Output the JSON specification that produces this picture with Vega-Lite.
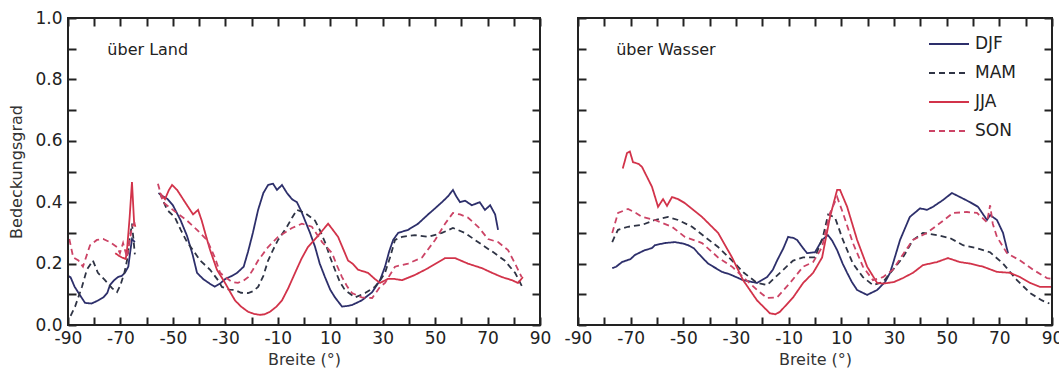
{
"$schema": "https://vega.github.io/schema/vega-lite/v6.json",
"width": 984, "height": 307,
"autosize": {"type": "none"},
"padding": {"left": 68, "top": 18, "right": 7, "bottom": 51},
"background": "white",
"config": {
 "view": {"stroke": null},
 "axis": {"labelFont": "DejaVu Sans", "titleFont": "DejaVu Sans", "labelFontSize": 17, "titleFontSize": 16, "titleFontWeight": "normal", "labelColor": "#222", "titleColor": "#333", "grid": false, "labelOverlap": false, "labelFlush": false}
},
"datasets": {
"d": [
{"p":"Land","s":"DJF","g":"1","lat":-90,"v":0.16},{"p":"Land","s":"DJF","g":"1","lat":-89,"v":0.155},{"p":"Land","s":"DJF","g":"1","lat":-87.5,"v":0.125},{"p":"Land","s":"DJF","g":"1","lat":-85.5,"v":0.098},{"p":"Land","s":"DJF","g":"1","lat":-83.5,"v":0.072},{"p":"Land","s":"DJF","g":"1","lat":-81,"v":0.07},{"p":"Land","s":"DJF","g":"1","lat":-78.5,"v":0.08},{"p":"Land","s":"DJF","g":"1","lat":-76.5,"v":0.09},{"p":"Land","s":"DJF","g":"1","lat":-75,"v":0.105},{"p":"Land","s":"DJF","g":"1","lat":-74,"v":0.13},{"p":"Land","s":"DJF","g":"1","lat":-72.5,"v":0.145},{"p":"Land","s":"DJF","g":"1","lat":-71,"v":0.156},{"p":"Land","s":"DJF","g":"1","lat":-69.5,"v":0.16},{"p":"Land","s":"DJF","g":"1","lat":-68.3,"v":0.17},{"p":"Land","s":"DJF","g":"1","lat":-67,"v":0.19},{"p":"Land","s":"DJF","g":"1","lat":-66.4,"v":0.23},{"p":"Land","s":"DJF","g":"1","lat":-65.6,"v":0.28},{"p":"Land","s":"DJF","g":"1","lat":-64.5,"v":0.27},
{"p":"Land","s":"DJF","g":"2","lat":-55.5,"v":0.43},{"p":"Land","s":"DJF","g":"2","lat":-54,"v":0.42},{"p":"Land","s":"DJF","g":"2","lat":-52,"v":0.41},{"p":"Land","s":"DJF","g":"2","lat":-50,"v":0.39},{"p":"Land","s":"DJF","g":"2","lat":-47,"v":0.34},{"p":"Land","s":"DJF","g":"2","lat":-44.6,"v":0.29},{"p":"Land","s":"DJF","g":"2","lat":-42.5,"v":0.23},{"p":"Land","s":"DJF","g":"2","lat":-40.8,"v":0.17},{"p":"Land","s":"DJF","g":"2","lat":-38.5,"v":0.15},{"p":"Land","s":"DJF","g":"2","lat":-36,"v":0.135},{"p":"Land","s":"DJF","g":"2","lat":-34,"v":0.125},{"p":"Land","s":"DJF","g":"2","lat":-32,"v":0.135},{"p":"Land","s":"DJF","g":"2","lat":-30,"v":0.15},{"p":"Land","s":"DJF","g":"2","lat":-27.5,"v":0.16},{"p":"Land","s":"DJF","g":"2","lat":-25.5,"v":0.17},{"p":"Land","s":"DJF","g":"2","lat":-23,"v":0.19},{"p":"Land","s":"DJF","g":"2","lat":-21.3,"v":0.24},{"p":"Land","s":"DJF","g":"2","lat":-19.5,"v":0.3},{"p":"Land","s":"DJF","g":"2","lat":-17.5,"v":0.375},{"p":"Land","s":"DJF","g":"2","lat":-15.5,"v":0.43},{"p":"Land","s":"DJF","g":"2","lat":-13.7,"v":0.456},{"p":"Land","s":"DJF","g":"2","lat":-11.8,"v":0.46},{"p":"Land","s":"DJF","g":"2","lat":-10.3,"v":0.44},{"p":"Land","s":"DJF","g":"2","lat":-8.4,"v":0.456},{"p":"Land","s":"DJF","g":"2","lat":-6.5,"v":0.43},{"p":"Land","s":"DJF","g":"2","lat":-4.6,"v":0.41},{"p":"Land","s":"DJF","g":"2","lat":-2.7,"v":0.4},{"p":"Land","s":"DJF","g":"2","lat":-1,"v":0.37},{"p":"Land","s":"DJF","g":"2","lat":0.4,"v":0.34},{"p":"Land","s":"DJF","g":"2","lat":2.3,"v":0.3},{"p":"Land","s":"DJF","g":"2","lat":4.2,"v":0.255},{"p":"Land","s":"DJF","g":"2","lat":6,"v":0.2},{"p":"Land","s":"DJF","g":"2","lat":8,"v":0.156},{"p":"Land","s":"DJF","g":"2","lat":10,"v":0.115},{"p":"Land","s":"DJF","g":"2","lat":11.8,"v":0.09},{"p":"Land","s":"DJF","g":"2","lat":14.5,"v":0.06},{"p":"Land","s":"DJF","g":"2","lat":16.5,"v":0.062},{"p":"Land","s":"DJF","g":"2","lat":18.3,"v":0.065},{"p":"Land","s":"DJF","g":"2","lat":22,"v":0.08},{"p":"Land","s":"DJF","g":"2","lat":26,"v":0.107},{"p":"Land","s":"DJF","g":"2","lat":29,"v":0.146},{"p":"Land","s":"DJF","g":"2","lat":30.9,"v":0.19},{"p":"Land","s":"DJF","g":"2","lat":32.5,"v":0.24},{"p":"Land","s":"DJF","g":"2","lat":34,"v":0.277},{"p":"Land","s":"DJF","g":"2","lat":35.9,"v":0.3},{"p":"Land","s":"DJF","g":"2","lat":39.7,"v":0.31},{"p":"Land","s":"DJF","g":"2","lat":43.5,"v":0.33},{"p":"Land","s":"DJF","g":"2","lat":47.3,"v":0.36},{"p":"Land","s":"DJF","g":"2","lat":50,"v":0.38},{"p":"Land","s":"DJF","g":"2","lat":52.6,"v":0.4},{"p":"Land","s":"DJF","g":"2","lat":55,"v":0.42},{"p":"Land","s":"DJF","g":"2","lat":56.8,"v":0.44},{"p":"Land","s":"DJF","g":"2","lat":58,"v":0.42},{"p":"Land","s":"DJF","g":"2","lat":59.5,"v":0.4},{"p":"Land","s":"DJF","g":"2","lat":61.4,"v":0.405},{"p":"Land","s":"DJF","g":"2","lat":64,"v":0.39},{"p":"Land","s":"DJF","g":"2","lat":67,"v":0.4},{"p":"Land","s":"DJF","g":"2","lat":69,"v":0.375},{"p":"Land","s":"DJF","g":"2","lat":71,"v":0.39},{"p":"Land","s":"DJF","g":"2","lat":72.9,"v":0.36},{"p":"Land","s":"DJF","g":"2","lat":74,"v":0.31},
{"p":"Land","s":"MAM","g":"1","lat":-89,"v":0.03},{"p":"Land","s":"MAM","g":"1","lat":-87.3,"v":0.06},{"p":"Land","s":"MAM","g":"1","lat":-84.7,"v":0.124},{"p":"Land","s":"MAM","g":"1","lat":-82.8,"v":0.18},{"p":"Land","s":"MAM","g":"1","lat":-80.5,"v":0.21},{"p":"Land","s":"MAM","g":"1","lat":-78.6,"v":0.17},{"p":"Land","s":"MAM","g":"1","lat":-75.9,"v":0.146},{"p":"Land","s":"MAM","g":"1","lat":-73.2,"v":0.12},{"p":"Land","s":"MAM","g":"1","lat":-71.3,"v":0.107},{"p":"Land","s":"MAM","g":"1","lat":-70,"v":0.13},{"p":"Land","s":"MAM","g":"1","lat":-68.5,"v":0.17},{"p":"Land","s":"MAM","g":"1","lat":-67.5,"v":0.21},{"p":"Land","s":"MAM","g":"1","lat":-66.5,"v":0.28},{"p":"Land","s":"MAM","g":"1","lat":-65.6,"v":0.33},{"p":"Land","s":"MAM","g":"1","lat":-64.5,"v":0.23},
{"p":"Land","s":"MAM","g":"2","lat":-55,"v":0.43},{"p":"Land","s":"MAM","g":"2","lat":-52.2,"v":0.375},{"p":"Land","s":"MAM","g":"2","lat":-49.2,"v":0.35},{"p":"Land","s":"MAM","g":"2","lat":-47,"v":0.31},{"p":"Land","s":"MAM","g":"2","lat":-44.6,"v":0.27},{"p":"Land","s":"MAM","g":"2","lat":-42,"v":0.24},{"p":"Land","s":"MAM","g":"2","lat":-39.6,"v":0.21},{"p":"Land","s":"MAM","g":"2","lat":-35.8,"v":0.18},{"p":"Land","s":"MAM","g":"2","lat":-32.8,"v":0.146},{"p":"Land","s":"MAM","g":"2","lat":-31.3,"v":0.124},{"p":"Land","s":"MAM","g":"2","lat":-28.5,"v":0.115},{"p":"Land","s":"MAM","g":"2","lat":-26.3,"v":0.114},{"p":"Land","s":"MAM","g":"2","lat":-24,"v":0.105},{"p":"Land","s":"MAM","g":"2","lat":-21.3,"v":0.104},{"p":"Land","s":"MAM","g":"2","lat":-19.5,"v":0.11},{"p":"Land","s":"MAM","g":"2","lat":-17.5,"v":0.124},{"p":"Land","s":"MAM","g":"2","lat":-15.5,"v":0.16},{"p":"Land","s":"MAM","g":"2","lat":-13.7,"v":0.21},{"p":"Land","s":"MAM","g":"2","lat":-11.8,"v":0.245},{"p":"Land","s":"MAM","g":"2","lat":-9.9,"v":0.277},{"p":"Land","s":"MAM","g":"2","lat":-6.5,"v":0.32},{"p":"Land","s":"MAM","g":"2","lat":-4.5,"v":0.35},{"p":"Land","s":"MAM","g":"2","lat":-2.7,"v":0.375},{"p":"Land","s":"MAM","g":"2","lat":0.4,"v":0.365},{"p":"Land","s":"MAM","g":"2","lat":4.2,"v":0.34},{"p":"Land","s":"MAM","g":"2","lat":6,"v":0.31},{"p":"Land","s":"MAM","g":"2","lat":8,"v":0.27},{"p":"Land","s":"MAM","g":"2","lat":10,"v":0.22},{"p":"Land","s":"MAM","g":"2","lat":11.8,"v":0.18},{"p":"Land","s":"MAM","g":"2","lat":13.7,"v":0.14},{"p":"Land","s":"MAM","g":"2","lat":15.6,"v":0.114},{"p":"Land","s":"MAM","g":"2","lat":19.5,"v":0.09},{"p":"Land","s":"MAM","g":"2","lat":23.3,"v":0.104},{"p":"Land","s":"MAM","g":"2","lat":27,"v":0.124},{"p":"Land","s":"MAM","g":"2","lat":29,"v":0.145},{"p":"Land","s":"MAM","g":"2","lat":30.9,"v":0.17},{"p":"Land","s":"MAM","g":"2","lat":32.8,"v":0.22},{"p":"Land","s":"MAM","g":"2","lat":34.7,"v":0.277},{"p":"Land","s":"MAM","g":"2","lat":37.4,"v":0.287},{"p":"Land","s":"MAM","g":"2","lat":42.3,"v":0.293},{"p":"Land","s":"MAM","g":"2","lat":47.3,"v":0.287},{"p":"Land","s":"MAM","g":"2","lat":52.6,"v":0.3},{"p":"Land","s":"MAM","g":"2","lat":56.8,"v":0.316},{"p":"Land","s":"MAM","g":"2","lat":61.4,"v":0.3},{"p":"Land","s":"MAM","g":"2","lat":65.2,"v":0.277},{"p":"Land","s":"MAM","g":"2","lat":69,"v":0.255},{"p":"Land","s":"MAM","g":"2","lat":72.5,"v":0.235},{"p":"Land","s":"MAM","g":"2","lat":76.5,"v":0.21},{"p":"Land","s":"MAM","g":"2","lat":80.5,"v":0.17},{"p":"Land","s":"MAM","g":"2","lat":83.5,"v":0.12},
{"p":"Land","s":"JJA","g":"1","lat":-72,"v":0.234},{"p":"Land","s":"JJA","g":"1","lat":-70.5,"v":0.225},{"p":"Land","s":"JJA","g":"1","lat":-69.4,"v":0.22},{"p":"Land","s":"JJA","g":"1","lat":-68,"v":0.215},{"p":"Land","s":"JJA","g":"1","lat":-67.5,"v":0.244},{"p":"Land","s":"JJA","g":"1","lat":-66.5,"v":0.35},{"p":"Land","s":"JJA","g":"1","lat":-65.6,"v":0.466},{"p":"Land","s":"JJA","g":"1","lat":-64.8,"v":0.335},{"p":"Land","s":"JJA","g":"1","lat":-64.3,"v":0.32},
{"p":"Land","s":"JJA","g":"2","lat":-55,"v":0.43},{"p":"Land","s":"JJA","g":"2","lat":-53,"v":0.41},{"p":"Land","s":"JJA","g":"2","lat":-51.5,"v":0.44},{"p":"Land","s":"JJA","g":"2","lat":-50.3,"v":0.456},{"p":"Land","s":"JJA","g":"2","lat":-48.4,"v":0.44},{"p":"Land","s":"JJA","g":"2","lat":-46.5,"v":0.415},{"p":"Land","s":"JJA","g":"2","lat":-44.6,"v":0.39},{"p":"Land","s":"JJA","g":"2","lat":-42.3,"v":0.36},{"p":"Land","s":"JJA","g":"2","lat":-40.4,"v":0.375},{"p":"Land","s":"JJA","g":"2","lat":-39,"v":0.34},{"p":"Land","s":"JJA","g":"2","lat":-37.7,"v":0.3},{"p":"Land","s":"JJA","g":"2","lat":-35.8,"v":0.244},{"p":"Land","s":"JJA","g":"2","lat":-33.2,"v":0.18},{"p":"Land","s":"JJA","g":"2","lat":-30.1,"v":0.137},{"p":"Land","s":"JJA","g":"2","lat":-28,"v":0.105},{"p":"Land","s":"JJA","g":"2","lat":-26.3,"v":0.08},{"p":"Land","s":"JJA","g":"2","lat":-24,"v":0.06},{"p":"Land","s":"JJA","g":"2","lat":-21.3,"v":0.043},{"p":"Land","s":"JJA","g":"2","lat":-19,"v":0.036},{"p":"Land","s":"JJA","g":"2","lat":-16.8,"v":0.033},{"p":"Land","s":"JJA","g":"2","lat":-15,"v":0.035},{"p":"Land","s":"JJA","g":"2","lat":-13,"v":0.043},{"p":"Land","s":"JJA","g":"2","lat":-10.5,"v":0.06},{"p":"Land","s":"JJA","g":"2","lat":-8.4,"v":0.08},{"p":"Land","s":"JJA","g":"2","lat":-6,"v":0.12},{"p":"Land","s":"JJA","g":"2","lat":-3.4,"v":0.17},{"p":"Land","s":"JJA","g":"2","lat":-1,"v":0.215},{"p":"Land","s":"JJA","g":"2","lat":1.5,"v":0.254},{"p":"Land","s":"JJA","g":"2","lat":5.3,"v":0.29},{"p":"Land","s":"JJA","g":"2","lat":9.2,"v":0.33},{"p":"Land","s":"JJA","g":"2","lat":11,"v":0.31},{"p":"Land","s":"JJA","g":"2","lat":13,"v":0.287},{"p":"Land","s":"JJA","g":"2","lat":16.8,"v":0.21},{"p":"Land","s":"JJA","g":"2","lat":18.5,"v":0.2},{"p":"Land","s":"JJA","g":"2","lat":20.6,"v":0.18},{"p":"Land","s":"JJA","g":"2","lat":24.4,"v":0.17},{"p":"Land","s":"JJA","g":"2","lat":27,"v":0.15},{"p":"Land","s":"JJA","g":"2","lat":29,"v":0.137},{"p":"Land","s":"JJA","g":"2","lat":32,"v":0.15},{"p":"Land","s":"JJA","g":"2","lat":34.5,"v":0.15},{"p":"Land","s":"JJA","g":"2","lat":37.4,"v":0.146},{"p":"Land","s":"JJA","g":"2","lat":42.3,"v":0.163},{"p":"Land","s":"JJA","g":"2","lat":47.3,"v":0.185},{"p":"Land","s":"JJA","g":"2","lat":53.8,"v":0.218},{"p":"Land","s":"JJA","g":"2","lat":57.6,"v":0.218},{"p":"Land","s":"JJA","g":"2","lat":62.5,"v":0.2},{"p":"Land","s":"JJA","g":"2","lat":67.9,"v":0.185},{"p":"Land","s":"JJA","g":"2","lat":71.7,"v":0.17},{"p":"Land","s":"JJA","g":"2","lat":75.5,"v":0.156},{"p":"Land","s":"JJA","g":"2","lat":79.3,"v":0.146},{"p":"Land","s":"JJA","g":"2","lat":81.6,"v":0.137},{"p":"Land","s":"JJA","g":"2","lat":83.5,"v":0.156},
{"p":"Land","s":"SON","g":"1","lat":-89.5,"v":0.28},{"p":"Land","s":"SON","g":"1","lat":-88,"v":0.22},{"p":"Land","s":"SON","g":"1","lat":-86,"v":0.21},{"p":"Land","s":"SON","g":"1","lat":-84.3,"v":0.19},{"p":"Land","s":"SON","g":"1","lat":-81.6,"v":0.26},{"p":"Land","s":"SON","g":"1","lat":-79,"v":0.277},{"p":"Land","s":"SON","g":"1","lat":-76.6,"v":0.28},{"p":"Land","s":"SON","g":"1","lat":-74,"v":0.27},{"p":"Land","s":"SON","g":"1","lat":-71.3,"v":0.254},{"p":"Land","s":"SON","g":"1","lat":-70.2,"v":0.234},{"p":"Land","s":"SON","g":"1","lat":-69,"v":0.267},{"p":"Land","s":"SON","g":"1","lat":-67.5,"v":0.22},{"p":"Land","s":"SON","g":"1","lat":-65.6,"v":0.32},{"p":"Land","s":"SON","g":"1","lat":-64.5,"v":0.335},
{"p":"Land","s":"SON","g":"2","lat":-55.7,"v":0.46},{"p":"Land","s":"SON","g":"2","lat":-53.8,"v":0.4},{"p":"Land","s":"SON","g":"2","lat":-50,"v":0.375},{"p":"Land","s":"SON","g":"2","lat":-44.6,"v":0.34},{"p":"Land","s":"SON","g":"2","lat":-40.8,"v":0.31},{"p":"Land","s":"SON","g":"2","lat":-37,"v":0.277},{"p":"Land","s":"SON","g":"2","lat":-34,"v":0.22},{"p":"Land","s":"SON","g":"2","lat":-32,"v":0.17},{"p":"Land","s":"SON","g":"2","lat":-30,"v":0.156},{"p":"Land","s":"SON","g":"2","lat":-27.5,"v":0.14},{"p":"Land","s":"SON","g":"2","lat":-25.2,"v":0.137},{"p":"Land","s":"SON","g":"2","lat":-23,"v":0.145},{"p":"Land","s":"SON","g":"2","lat":-21.3,"v":0.156},{"p":"Land","s":"SON","g":"2","lat":-19.5,"v":0.18},{"p":"Land","s":"SON","g":"2","lat":-17.5,"v":0.21},{"p":"Land","s":"SON","g":"2","lat":-13.7,"v":0.254},{"p":"Land","s":"SON","g":"2","lat":-9.9,"v":0.287},{"p":"Land","s":"SON","g":"2","lat":-4.6,"v":0.316},{"p":"Land","s":"SON","g":"2","lat":-0.8,"v":0.33},{"p":"Land","s":"SON","g":"2","lat":3,"v":0.32},{"p":"Land","s":"SON","g":"2","lat":6.9,"v":0.27},{"p":"Land","s":"SON","g":"2","lat":10.7,"v":0.234},{"p":"Land","s":"SON","g":"2","lat":12.5,"v":0.195},{"p":"Land","s":"SON","g":"2","lat":14.5,"v":0.156},{"p":"Land","s":"SON","g":"2","lat":16.5,"v":0.125},{"p":"Land","s":"SON","g":"2","lat":18.3,"v":0.104},{"p":"Land","s":"SON","g":"2","lat":22,"v":0.09},{"p":"Land","s":"SON","g":"2","lat":26,"v":0.088},{"p":"Land","s":"SON","g":"2","lat":29,"v":0.124},{"p":"Land","s":"SON","g":"2","lat":30.9,"v":0.137},{"p":"Land","s":"SON","g":"2","lat":34.7,"v":0.19},{"p":"Land","s":"SON","g":"2","lat":39.7,"v":0.2},{"p":"Land","s":"SON","g":"2","lat":45,"v":0.22},{"p":"Land","s":"SON","g":"2","lat":50,"v":0.277},{"p":"Land","s":"SON","g":"2","lat":53.8,"v":0.33},{"p":"Land","s":"SON","g":"2","lat":56.8,"v":0.365},{"p":"Land","s":"SON","g":"2","lat":59.5,"v":0.36},{"p":"Land","s":"SON","g":"2","lat":62.5,"v":0.35},{"p":"Land","s":"SON","g":"2","lat":66.4,"v":0.32},{"p":"Land","s":"SON","g":"2","lat":70.2,"v":0.28},{"p":"Land","s":"SON","g":"2","lat":74,"v":0.27},{"p":"Land","s":"SON","g":"2","lat":77.8,"v":0.244},{"p":"Land","s":"SON","g":"2","lat":80.5,"v":0.2},{"p":"Land","s":"SON","g":"2","lat":83,"v":0.156},
{"p":"Wasser","s":"DJF","g":"1","lat":-77,"v":0.185},{"p":"Wasser","s":"DJF","g":"1","lat":-75.5,"v":0.19},{"p":"Wasser","s":"DJF","g":"1","lat":-73.3,"v":0.205},{"p":"Wasser","s":"DJF","g":"1","lat":-70,"v":0.215},{"p":"Wasser","s":"DJF","g":"1","lat":-68.4,"v":0.228},{"p":"Wasser","s":"DJF","g":"1","lat":-64.6,"v":0.244},{"p":"Wasser","s":"DJF","g":"1","lat":-62,"v":0.25},{"p":"Wasser","s":"DJF","g":"1","lat":-60.8,"v":0.26},{"p":"Wasser","s":"DJF","g":"1","lat":-57,"v":0.267},{"p":"Wasser","s":"DJF","g":"1","lat":-53.2,"v":0.27},{"p":"Wasser","s":"DJF","g":"1","lat":-50,"v":0.265},{"p":"Wasser","s":"DJF","g":"1","lat":-48.2,"v":0.26},{"p":"Wasser","s":"DJF","g":"1","lat":-46,"v":0.25},{"p":"Wasser","s":"DJF","g":"1","lat":-44.4,"v":0.234},{"p":"Wasser","s":"DJF","g":"1","lat":-40.6,"v":0.2},{"p":"Wasser","s":"DJF","g":"1","lat":-35.3,"v":0.173},{"p":"Wasser","s":"DJF","g":"1","lat":-32.3,"v":0.165},{"p":"Wasser","s":"DJF","g":"1","lat":-27.3,"v":0.146},{"p":"Wasser","s":"DJF","g":"1","lat":-22,"v":0.137},{"p":"Wasser","s":"DJF","g":"1","lat":-18.2,"v":0.156},{"p":"Wasser","s":"DJF","g":"1","lat":-16,"v":0.18},{"p":"Wasser","s":"DJF","g":"1","lat":-14.4,"v":0.21},{"p":"Wasser","s":"DJF","g":"1","lat":-12,"v":0.25},{"p":"Wasser","s":"DJF","g":"1","lat":-10.2,"v":0.287},{"p":"Wasser","s":"DJF","g":"1","lat":-8,"v":0.283},{"p":"Wasser","s":"DJF","g":"1","lat":-6.8,"v":0.277},{"p":"Wasser","s":"DJF","g":"1","lat":-4.5,"v":0.25},{"p":"Wasser","s":"DJF","g":"1","lat":-3,"v":0.234},{"p":"Wasser","s":"DJF","g":"1","lat":0,"v":0.237},{"p":"Wasser","s":"DJF","g":"1","lat":2.7,"v":0.277},{"p":"Wasser","s":"DJF","g":"1","lat":4.9,"v":0.293},{"p":"Wasser","s":"DJF","g":"1","lat":6.5,"v":0.275},{"p":"Wasser","s":"DJF","g":"1","lat":8.4,"v":0.244},{"p":"Wasser","s":"DJF","g":"1","lat":10.5,"v":0.2},{"p":"Wasser","s":"DJF","g":"1","lat":12.2,"v":0.17},{"p":"Wasser","s":"DJF","g":"1","lat":14,"v":0.14},{"p":"Wasser","s":"DJF","g":"1","lat":16,"v":0.114},{"p":"Wasser","s":"DJF","g":"1","lat":19.8,"v":0.098},{"p":"Wasser","s":"DJF","g":"1","lat":23.6,"v":0.114},{"p":"Wasser","s":"DJF","g":"1","lat":26.6,"v":0.14},{"p":"Wasser","s":"DJF","g":"1","lat":28.5,"v":0.17},{"p":"Wasser","s":"DJF","g":"1","lat":29.6,"v":0.2},{"p":"Wasser","s":"DJF","g":"1","lat":32.3,"v":0.277},{"p":"Wasser","s":"DJF","g":"1","lat":36,"v":0.352},{"p":"Wasser","s":"DJF","g":"1","lat":39.9,"v":0.38},{"p":"Wasser","s":"DJF","g":"1","lat":42.5,"v":0.375},{"p":"Wasser","s":"DJF","g":"1","lat":44.8,"v":0.385},{"p":"Wasser","s":"DJF","g":"1","lat":48.6,"v":0.407},{"p":"Wasser","s":"DJF","g":"1","lat":52,"v":0.43},{"p":"Wasser","s":"DJF","g":"1","lat":55,"v":0.417},{"p":"Wasser","s":"DJF","g":"1","lat":58.9,"v":0.4},{"p":"Wasser","s":"DJF","g":"1","lat":61.9,"v":0.385},{"p":"Wasser","s":"DJF","g":"1","lat":65.3,"v":0.342},{"p":"Wasser","s":"DJF","g":"1","lat":66.5,"v":0.358},{"p":"Wasser","s":"DJF","g":"1","lat":69.1,"v":0.342},{"p":"Wasser","s":"DJF","g":"1","lat":71.4,"v":0.3},{"p":"Wasser","s":"DJF","g":"1","lat":73.3,"v":0.234},
{"p":"Wasser","s":"MAM","g":"1","lat":-77,"v":0.27},{"p":"Wasser","s":"MAM","g":"1","lat":-76,"v":0.29},{"p":"Wasser","s":"MAM","g":"1","lat":-74.8,"v":0.31},{"p":"Wasser","s":"MAM","g":"1","lat":-71,"v":0.32},{"p":"Wasser","s":"MAM","g":"1","lat":-65.7,"v":0.326},{"p":"Wasser","s":"MAM","g":"1","lat":-60.8,"v":0.342},{"p":"Wasser","s":"MAM","g":"1","lat":-55.8,"v":0.352},{"p":"Wasser","s":"MAM","g":"1","lat":-52,"v":0.342},{"p":"Wasser","s":"MAM","g":"1","lat":-46.7,"v":0.32},{"p":"Wasser","s":"MAM","g":"1","lat":-41.8,"v":0.287},{"p":"Wasser","s":"MAM","g":"1","lat":-36.8,"v":0.254},{"p":"Wasser","s":"MAM","g":"1","lat":-31.5,"v":0.21},{"p":"Wasser","s":"MAM","g":"1","lat":-27,"v":0.17},{"p":"Wasser","s":"MAM","g":"1","lat":-22,"v":0.137},{"p":"Wasser","s":"MAM","g":"1","lat":-18.2,"v":0.13},{"p":"Wasser","s":"MAM","g":"1","lat":-13.3,"v":0.17},{"p":"Wasser","s":"MAM","g":"1","lat":-8.3,"v":0.21},{"p":"Wasser","s":"MAM","g":"1","lat":-4.5,"v":0.22},{"p":"Wasser","s":"MAM","g":"1","lat":0,"v":0.22},{"p":"Wasser","s":"MAM","g":"1","lat":3,"v":0.287},{"p":"Wasser","s":"MAM","g":"1","lat":5,"v":0.36},{"p":"Wasser","s":"MAM","g":"1","lat":7.6,"v":0.35},{"p":"Wasser","s":"MAM","g":"1","lat":10.6,"v":0.277},{"p":"Wasser","s":"MAM","g":"1","lat":14.4,"v":0.2},{"p":"Wasser","s":"MAM","g":"1","lat":18.2,"v":0.156},{"p":"Wasser","s":"MAM","g":"1","lat":22,"v":0.13},{"p":"Wasser","s":"MAM","g":"1","lat":25.8,"v":0.14},{"p":"Wasser","s":"MAM","g":"1","lat":29.6,"v":0.18},{"p":"Wasser","s":"MAM","g":"1","lat":33.4,"v":0.22},{"p":"Wasser","s":"MAM","g":"1","lat":37.2,"v":0.277},{"p":"Wasser","s":"MAM","g":"1","lat":41,"v":0.3},{"p":"Wasser","s":"MAM","g":"1","lat":46.3,"v":0.293},{"p":"Wasser","s":"MAM","g":"1","lat":51.3,"v":0.283},{"p":"Wasser","s":"MAM","g":"1","lat":56.2,"v":0.26},{"p":"Wasser","s":"MAM","g":"1","lat":61.5,"v":0.25},{"p":"Wasser","s":"MAM","g":"1","lat":66.5,"v":0.237},{"p":"Wasser","s":"MAM","g":"1","lat":71.4,"v":0.2},{"p":"Wasser","s":"MAM","g":"1","lat":76.7,"v":0.146},{"p":"Wasser","s":"MAM","g":"1","lat":81.7,"v":0.104},{"p":"Wasser","s":"MAM","g":"1","lat":86.2,"v":0.08},{"p":"Wasser","s":"MAM","g":"1","lat":89,"v":0.07},
{"p":"Wasser","s":"JJA","g":"1","lat":-73,"v":0.51},{"p":"Wasser","s":"JJA","g":"1","lat":-71.4,"v":0.56},{"p":"Wasser","s":"JJA","g":"1","lat":-70.3,"v":0.565},{"p":"Wasser","s":"JJA","g":"1","lat":-69.1,"v":0.53},{"p":"Wasser","s":"JJA","g":"1","lat":-67,"v":0.525},{"p":"Wasser","s":"JJA","g":"1","lat":-65.7,"v":0.515},{"p":"Wasser","s":"JJA","g":"1","lat":-61.9,"v":0.45},{"p":"Wasser","s":"JJA","g":"1","lat":-59.6,"v":0.385},{"p":"Wasser","s":"JJA","g":"1","lat":-57.7,"v":0.41},{"p":"Wasser","s":"JJA","g":"1","lat":-56.2,"v":0.388},{"p":"Wasser","s":"JJA","g":"1","lat":-54.3,"v":0.417},{"p":"Wasser","s":"JJA","g":"1","lat":-52,"v":0.41},{"p":"Wasser","s":"JJA","g":"1","lat":-49.4,"v":0.397},{"p":"Wasser","s":"JJA","g":"1","lat":-42.9,"v":0.352},{"p":"Wasser","s":"JJA","g":"1","lat":-36.8,"v":0.3},{"p":"Wasser","s":"JJA","g":"1","lat":-31.5,"v":0.22},{"p":"Wasser","s":"JJA","g":"1","lat":-27.3,"v":0.146},{"p":"Wasser","s":"JJA","g":"1","lat":-22,"v":0.08},{"p":"Wasser","s":"JJA","g":"1","lat":-17.1,"v":0.038},{"p":"Wasser","s":"JJA","g":"1","lat":-15,"v":0.035},{"p":"Wasser","s":"JJA","g":"1","lat":-13.3,"v":0.043},{"p":"Wasser","s":"JJA","g":"1","lat":-8.3,"v":0.09},{"p":"Wasser","s":"JJA","g":"1","lat":-4.5,"v":0.137},{"p":"Wasser","s":"JJA","g":"1","lat":-0.7,"v":0.17},{"p":"Wasser","s":"JJA","g":"1","lat":2.7,"v":0.22},{"p":"Wasser","s":"JJA","g":"1","lat":5.7,"v":0.352},{"p":"Wasser","s":"JJA","g":"1","lat":8.4,"v":0.44},{"p":"Wasser","s":"JJA","g":"1","lat":9.5,"v":0.44},{"p":"Wasser","s":"JJA","g":"1","lat":12.2,"v":0.385},{"p":"Wasser","s":"JJA","g":"1","lat":16,"v":0.277},{"p":"Wasser","s":"JJA","g":"1","lat":19.8,"v":0.19},{"p":"Wasser","s":"JJA","g":"1","lat":23.6,"v":0.137},{"p":"Wasser","s":"JJA","g":"1","lat":26,"v":0.135},{"p":"Wasser","s":"JJA","g":"1","lat":30,"v":0.14},{"p":"Wasser","s":"JJA","g":"1","lat":33.4,"v":0.153},{"p":"Wasser","s":"JJA","g":"1","lat":37.2,"v":0.17},{"p":"Wasser","s":"JJA","g":"1","lat":41,"v":0.195},{"p":"Wasser","s":"JJA","g":"1","lat":46.3,"v":0.205},{"p":"Wasser","s":"JJA","g":"1","lat":50.5,"v":0.218},{"p":"Wasser","s":"JJA","g":"1","lat":55,"v":0.205},{"p":"Wasser","s":"JJA","g":"1","lat":58.9,"v":0.2},{"p":"Wasser","s":"JJA","g":"1","lat":63.8,"v":0.19},{"p":"Wasser","s":"JJA","g":"1","lat":69.1,"v":0.173},{"p":"Wasser","s":"JJA","g":"1","lat":74,"v":0.17},{"p":"Wasser","s":"JJA","g":"1","lat":77.9,"v":0.156},{"p":"Wasser","s":"JJA","g":"1","lat":81.7,"v":0.137},{"p":"Wasser","s":"JJA","g":"1","lat":85.5,"v":0.124},{"p":"Wasser","s":"JJA","g":"1","lat":90,"v":0.124},
{"p":"Wasser","s":"SON","g":"1","lat":-77,"v":0.3},{"p":"Wasser","s":"SON","g":"1","lat":-74.8,"v":0.365},{"p":"Wasser","s":"SON","g":"1","lat":-71,"v":0.378},{"p":"Wasser","s":"SON","g":"1","lat":-68,"v":0.365},{"p":"Wasser","s":"SON","g":"1","lat":-65.7,"v":0.352},{"p":"Wasser","s":"SON","g":"1","lat":-60.8,"v":0.342},{"p":"Wasser","s":"SON","g":"1","lat":-54.3,"v":0.32},{"p":"Wasser","s":"SON","g":"1","lat":-49.4,"v":0.287},{"p":"Wasser","s":"SON","g":"1","lat":-42.9,"v":0.267},{"p":"Wasser","s":"SON","g":"1","lat":-36.8,"v":0.22},{"p":"Wasser","s":"SON","g":"1","lat":-31.5,"v":0.19},{"p":"Wasser","s":"SON","g":"1","lat":-27.3,"v":0.156},{"p":"Wasser","s":"SON","g":"1","lat":-22,"v":0.114},{"p":"Wasser","s":"SON","g":"1","lat":-18.2,"v":0.088},{"p":"Wasser","s":"SON","g":"1","lat":-14.4,"v":0.09},{"p":"Wasser","s":"SON","g":"1","lat":-9.5,"v":0.137},{"p":"Wasser","s":"SON","g":"1","lat":-4.5,"v":0.19},{"p":"Wasser","s":"SON","g":"1","lat":-0.7,"v":0.205},{"p":"Wasser","s":"SON","g":"1","lat":2.7,"v":0.254},{"p":"Wasser","s":"SON","g":"1","lat":5.7,"v":0.365},{"p":"Wasser","s":"SON","g":"1","lat":8.4,"v":0.417},{"p":"Wasser","s":"SON","g":"1","lat":10.6,"v":0.365},{"p":"Wasser","s":"SON","g":"1","lat":14.4,"v":0.267},{"p":"Wasser","s":"SON","g":"1","lat":18.2,"v":0.19},{"p":"Wasser","s":"SON","g":"1","lat":22,"v":0.146},{"p":"Wasser","s":"SON","g":"1","lat":25.8,"v":0.156},{"p":"Wasser","s":"SON","g":"1","lat":29.6,"v":0.18},{"p":"Wasser","s":"SON","g":"1","lat":33.4,"v":0.23},{"p":"Wasser","s":"SON","g":"1","lat":37.2,"v":0.277},{"p":"Wasser","s":"SON","g":"1","lat":42.5,"v":0.3},{"p":"Wasser","s":"SON","g":"1","lat":47.5,"v":0.332},{"p":"Wasser","s":"SON","g":"1","lat":52.4,"v":0.365},{"p":"Wasser","s":"SON","g":"1","lat":57.7,"v":0.368},{"p":"Wasser","s":"SON","g":"1","lat":61.5,"v":0.365},{"p":"Wasser","s":"SON","g":"1","lat":65.3,"v":0.335},{"p":"Wasser","s":"SON","g":"1","lat":66.5,"v":0.39},{"p":"Wasser","s":"SON","g":"1","lat":67.5,"v":0.33},{"p":"Wasser","s":"SON","g":"1","lat":69.1,"v":0.287},{"p":"Wasser","s":"SON","g":"1","lat":72.9,"v":0.234},{"p":"Wasser","s":"SON","g":"1","lat":77.9,"v":0.21},{"p":"Wasser","s":"SON","g":"1","lat":82.8,"v":0.18},{"p":"Wasser","s":"SON","g":"1","lat":88.1,"v":0.153},{"p":"Wasser","s":"SON","g":"1","lat":90,"v":0.15}
]
},
"resolve": {"scale": {"x": "independent"}, "axis": {"x": "independent", "y": "independent"}},
"layer": [
{
 "data": {"name": "d"},
 "transform": [{"filter": "datum.p == 'Land'"}],
 "mark": {"type": "line", "strokeWidth": 1.8},
 "encoding": {
  "x": {"field": "lat", "type": "quantitative", "scale": {"domain": [-90, 90], "range": [0, 472], "nice": false, "zero": false},
        "axis": {"orient": "bottom", "offset": -8, "domain": false, "ticks": true, "tickSize": 8, "tickWidth": 2, "tickColor": "#222", "zindex": 1, "tickCount": 18, "labelExpr": "abs(round(datum.value) % 20) == 10 ? toString(round(datum.value)) : ''", "labelPadding": 5, "title": "Breite (°)", "titlePadding": 5}},
  "y": {"field": "v", "type": "quantitative", "scale": {"domain": [0, 1], "nice": false, "zero": false},
        "axis": {"orient": "left", "offset": -8, "domain": false, "ticks": true, "tickSize": 8, "tickWidth": 2, "tickColor": "#222", "zindex": 1, "tickCount": 10, "labelExpr": "round(datum.value*10) % 2 == 0 ? format(datum.value, '.1f') : ''", "labelPadding": 6, "title": "Bedeckungsgrad", "titlePadding": 10}},
  "color": {"field": "s", "type": "nominal", "scale": {"domain": ["DJF", "MAM", "JJA", "SON"], "range": ["#2d2f6b", "#2f3445", "#d2334a", "#cc4466"]},
            "legend": {"orient": "none", "legendX": 860, "legendY": 5, "title": null, "symbolType": "stroke", "symbolSize": 1600, "symbolStrokeWidth": 2, "labelFont": "DejaVu Sans", "labelFontSize": 17, "labelColor": "#222", "rowPadding": -19, "labelOffset": 5}},
  "strokeDash": {"field": "s", "type": "nominal", "scale": {"domain": ["DJF", "MAM", "JJA", "SON"], "range": [[1, 0], [6, 4], [1, 0], [6, 4]]},
            "legend": {"orient": "none", "legendX": 860, "legendY": 5, "title": null, "symbolType": "stroke", "symbolSize": 1600, "symbolStrokeWidth": 2, "labelFont": "DejaVu Sans", "labelFontSize": 17, "labelColor": "#222", "rowPadding": -19, "labelOffset": 5}},
  "detail": {"field": "g"}
 }
},
{
 "data": {"values": [{"lat": -75, "v": 0.896, "t": "über Land"}]},
 "mark": {"type": "text", "align": "left", "baseline": "middle", "font": "DejaVu Sans", "fontSize": 16, "color": "#222"},
 "encoding": {
  "x": {"field": "lat", "type": "quantitative", "scale": {"domain": [-90, 90], "range": [0, 472], "nice": false, "zero": false},
        "axis": {"orient": "top", "offset": -8, "domain": false, "ticks": true, "tickSize": 8, "tickWidth": 2, "tickColor": "#222", "zindex": 1, "tickCount": 18, "labels": false, "title": null}},
  "y": {"field": "v", "type": "quantitative", "scale": {"domain": [0, 1], "nice": false, "zero": false},
        "axis": {"orient": "right", "offset": -520, "domain": false, "ticks": true, "tickSize": 8, "tickWidth": 2, "tickColor": "#222", "zindex": 1, "tickCount": 10, "labels": false, "title": null}},
  "text": {"field": "t"}
 }
},
{
 "data": {"name": "d"},
 "transform": [{"filter": "datum.p == 'Wasser'"}],
 "mark": {"type": "line", "strokeWidth": 1.8},
 "encoding": {
  "x": {"field": "lat", "type": "quantitative", "scale": {"domain": [-90, 90], "range": [510, 984], "nice": false, "zero": false},
        "axis": {"orient": "bottom", "offset": -8, "domain": false, "ticks": true, "tickSize": 8, "tickWidth": 2, "tickColor": "#222", "zindex": 1, "tickCount": 18, "labelExpr": "abs(round(datum.value) % 20) == 10 ? toString(round(datum.value)) : ''", "labelPadding": 5, "title": "Breite (°)", "titlePadding": 5}},
  "y": {"field": "v", "type": "quantitative", "scale": {"domain": [0, 1], "nice": false, "zero": false},
        "axis": {"orient": "left", "offset": -518, "domain": false, "ticks": true, "tickSize": 8, "tickWidth": 2, "tickColor": "#222", "zindex": 1, "tickCount": 10, "labels": false, "title": null}},
  "color": {"field": "s", "type": "nominal", "scale": {"domain": ["DJF", "MAM", "JJA", "SON"], "range": ["#2d2f6b", "#2f3445", "#d2334a", "#cc4466"]},
            "legend": {"orient": "none", "legendX": 860, "legendY": 5, "title": null, "symbolType": "stroke", "symbolSize": 1600, "symbolStrokeWidth": 2, "labelFont": "DejaVu Sans", "labelFontSize": 17, "labelColor": "#222", "rowPadding": -19, "labelOffset": 5}},
  "strokeDash": {"field": "s", "type": "nominal", "scale": {"domain": ["DJF", "MAM", "JJA", "SON"], "range": [[1, 0], [6, 4], [1, 0], [6, 4]]},
            "legend": {"orient": "none", "legendX": 860, "legendY": 5, "title": null, "symbolType": "stroke", "symbolSize": 1600, "symbolStrokeWidth": 2, "labelFont": "DejaVu Sans", "labelFontSize": 17, "labelColor": "#222", "rowPadding": -19, "labelOffset": 5}},
  "detail": {"field": "g"}
 }
},
{
 "data": {"values": [{"lat": -75.5, "v": 0.896, "t": "über Wasser"}]},
 "mark": {"type": "text", "align": "left", "baseline": "middle", "font": "DejaVu Sans", "fontSize": 16, "color": "#222"},
 "encoding": {
  "x": {"field": "lat", "type": "quantitative", "scale": {"domain": [-90, 90], "range": [510, 984], "nice": false, "zero": false},
        "axis": {"orient": "top", "offset": -8, "domain": false, "ticks": true, "tickSize": 8, "tickWidth": 2, "tickColor": "#222", "zindex": 1, "tickCount": 18, "labels": false, "title": null}},
  "y": {"field": "v", "type": "quantitative", "scale": {"domain": [0, 1], "nice": false, "zero": false},
        "axis": {"orient": "right", "offset": -8, "domain": false, "ticks": true, "tickSize": 8, "tickWidth": 2, "tickColor": "#222", "zindex": 1, "tickCount": 10, "labels": false, "title": null}},
  "text": {"field": "t"}
 }
},
{
 "data": {"values": [{"a": -90, "b": 90, "c": 0, "e": 1}]},
 "mark": {"type": "rect", "fill": null, "fillOpacity": 0, "stroke": "#222", "strokeWidth": 2},
 "encoding": {
  "x": {"field": "a", "type": "quantitative", "scale": {"domain": [-90, 90], "range": [0, 472], "nice": false, "zero": false}, "axis": null},
  "x2": {"field": "b"},
  "y": {"field": "c", "type": "quantitative", "scale": {"domain": [0, 1], "nice": false, "zero": false}, "axis": null},
  "y2": {"field": "e"}
 }
},
{
 "data": {"values": [{"a": -90, "b": 90, "c": 0, "e": 1}]},
 "mark": {"type": "rect", "fill": null, "fillOpacity": 0, "stroke": "#222", "strokeWidth": 2},
 "encoding": {
  "x": {"field": "a", "type": "quantitative", "scale": {"domain": [-90, 90], "range": [510, 984], "nice": false, "zero": false}, "axis": null},
  "x2": {"field": "b"},
  "y": {"field": "c", "type": "quantitative", "scale": {"domain": [0, 1], "nice": false, "zero": false}, "axis": null},
  "y2": {"field": "e"}
 }
}
]
}
